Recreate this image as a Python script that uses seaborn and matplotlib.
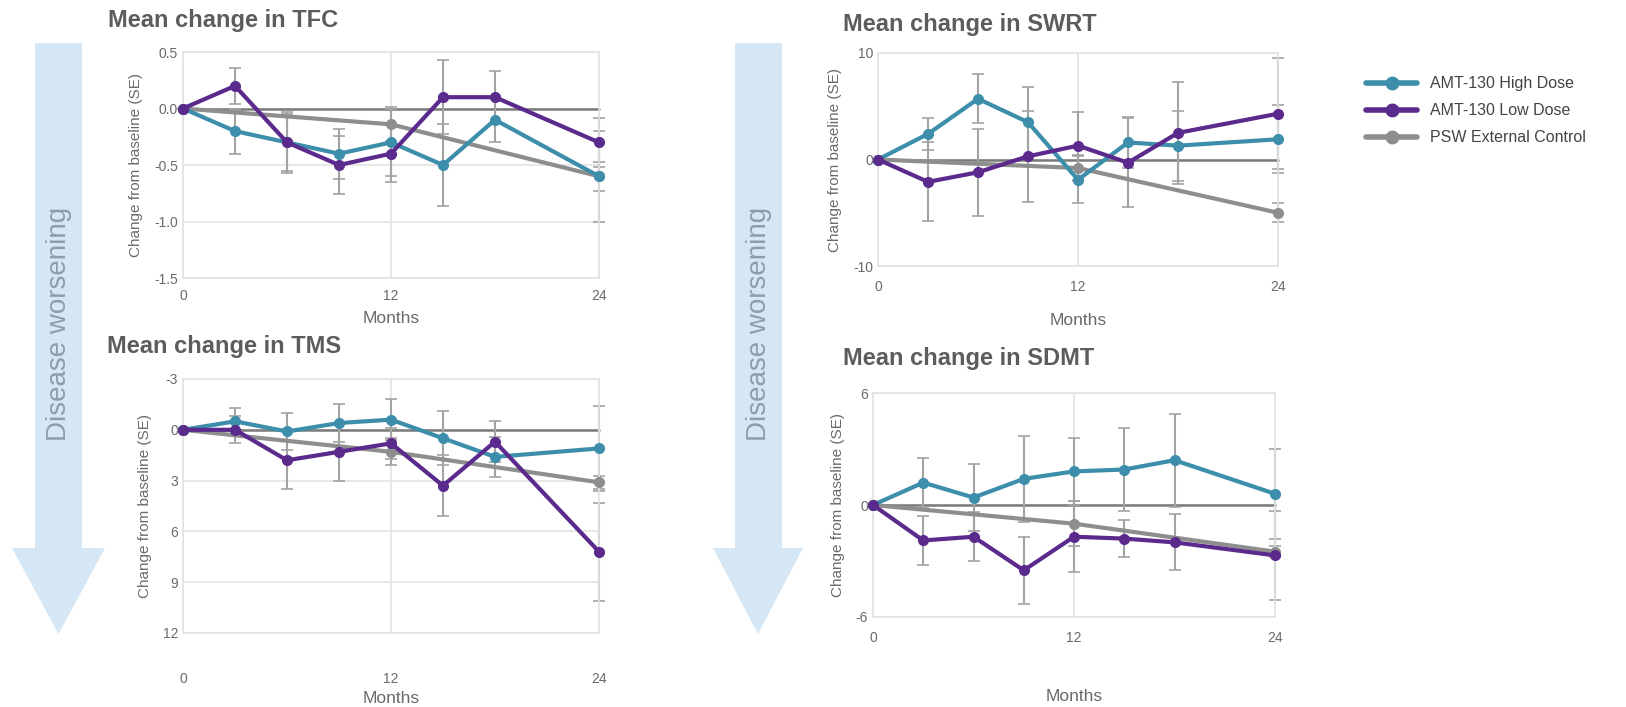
import matplotlib
matplotlib.use("Agg")
import matplotlib.pyplot as plt
from matplotlib.patches import Polygon
from matplotlib.lines import Line2D
import seaborn as sns
import pandas as pd

# ---- data ----
months = [0, 3, 6, 9, 12, 15, 18, 24]
ctrl_months = [0, 12, 24]
series_names = ["AMT-130 High Dose", "AMT-130 Low Dose", "PSW External Control"]

tfc_high = [0, -0.2, -0.3, -0.4, -0.3, -0.5, -0.1, -0.6]
tfc_high_se = [0, 0.2, 0.25, 0.22, 0.3, 0.36, 0.2, 0.4]
tfc_low = [0, 0.2, -0.3, -0.5, -0.4, 0.1, 0.1, -0.3]
tfc_low_se = [0, 0.16, 0.27, 0.26, 0.25, 0.33, 0.23, 0.22]
tfc_ctrl = [0, -0.14, -0.6]
tfc_ctrl_se = [0, 0.15, 0.13]

tms_high = [0, -0.5, 0.1, -0.4, -0.6, 0.5, 1.6, 1.1]
tms_high_se = [0, 0.8, 1.1, 1.1, 1.2, 1.6, 1.2, 2.5]
tms_low = [0, 0.0, 1.8, 1.3, 0.8, 3.3, 0.7, 7.2]
tms_low_se = [0, 0.8, 1.7, 1.7, 0.9, 1.8, 1.2, 2.9]
tms_ctrl = [0, 1.3, 3.1]
tms_ctrl_se = [0, 0.8, 0.4]

swrt_high = [0, 2.4, 5.7, 3.5, -1.9, 1.6, 1.3, 1.9]
swrt_high_se = [0, 1.5, 2.3, 3.3, 2.2, 2.4, 3.3, 3.2]
swrt_low = [0, -2.1, -1.2, 0.3, 1.3, -0.3, 2.5, 4.3]
swrt_low_se = [0, 3.7, 4.1, 4.3, 3.2, 4.2, 4.8, 5.2]
swrt_ctrl = [0, -0.8, -5.0]
swrt_ctrl_se = [0, 1.2, 0.9]

sdmt_high = [0, 1.2, 0.4, 1.4, 1.8, 1.9, 2.4, 0.6]
sdmt_high_se = [0, 1.3, 1.8, 2.3, 1.8, 2.2, 2.5, 2.4]
sdmt_low = [0, -1.9, -1.7, -3.5, -1.7, -1.8, -2.0, -2.7]
sdmt_low_se = [0, 1.3, 1.3, 1.8, 1.9, 1.0, 1.5, 2.4]
sdmt_ctrl = [0, -1.0, -2.5]
sdmt_ctrl_se = [0, 1.2, 0.3]

colors = {"AMT-130 High Dose": "#3d8eab",
          "AMT-130 Low Dose": "#5a2a8c",
          "PSW External Control": "#8e8e8e"}

W, H = 1626, 707
sns.set_theme(style="white")
plt.rcParams["font.family"] = ["Liberation Sans", "DejaVu Sans"]
plt.rcParams["axes.unicode_minus"] = False
fig = plt.figure(figsize=(W / 100, H / 100), dpi=100)


def box(l, t, r, b):
    return [l / W, 1 - b / H, (r - l) / W, (b - t) / H]


# background layer for the arrows
bg = fig.add_axes([0, 0, 1, 1])
bg.set_xlim(0, W)
bg.set_ylim(H, 0)
bg.axis("off")
for sl, sr, hl, hr in [(35, 82, 12, 105), (735, 782, 713, 803)]:
    bg.add_patch(Polygon([(sl, 43), (sr, 43), (sr, 548), (hr, 548),
                          ((hl + hr) / 2, 634), (hl, 548), (sl, 548)],
                         closed=True, color="#d5e7f5", lw=0))
    bg.text((sl + sr) / 2, 324, "Disease worsening", rotation=90,
            ha="center", va="center", fontsize=20, color="#8f9cae")


def panel(rect, title, tpos, high, high_se, low, low_se, ctrl, ctrl_se,
          ylim, yticks, tick_pad, xlab_pad, invert=False):
    ax = fig.add_axes(box(*rect))
    df = pd.DataFrame({
        "Months": months * 2 + ctrl_months,
        "value": high + low + ctrl,
        "se": high_se + low_se + ctrl_se,
        "group": [series_names[0]] * 8 + [series_names[1]] * 8 + [series_names[2]] * 3,
    })
    ax.axhline(0, color="#7a7a7a", lw=1.8, zorder=1)
    for name, g in df.groupby("group", sort=False):
        ax.errorbar(g["Months"], g["value"], yerr=g["se"], fmt="none",
                    ecolor="#a3a3a3", elinewidth=1.5, capsize=4, capthick=1.2,
                    zorder=2, clip_on=False)
    sns.lineplot(data=df, x="Months", y="value", hue="group", palette=colors,
                 hue_order=[series_names[2], series_names[0], series_names[1]],
                 marker="o", markersize=8, markeredgewidth=0, linewidth=3,
                 legend=False, ax=ax, zorder=3)
    for ln in ax.lines:
        ln.set_clip_on(False)
    ax.set_xlim(0, 24)
    ax.set_xticks([0, 12, 24])
    ax.set_ylim(*ylim)
    ax.set_yticks(yticks)
    if invert:
        ax.invert_yaxis()
    ax.grid(True, color="#e3e3e3", lw=1.2)
    ax.set_axisbelow(True)
    for s in ax.spines.values():
        s.set_color("#e3e3e3")
        s.set_linewidth(1.2)
    ax.tick_params(colors="#6a6a6a", labelsize=10, length=0)
    ax.tick_params(axis="x", pad=tick_pad)
    ax.set_xlabel("Months", fontsize=12.5, color="#6a6a6a", labelpad=xlab_pad)
    ax.set_ylabel("Change from baseline (SE)", fontsize=11, color="#6a6a6a",
                  labelpad=8)
    fig.text(tpos[0] / W, 1 - tpos[1] / H, title, fontsize=17,
             fontweight="bold", color="#5c5c5c", ha="left", va="center")
    return ax


panel((183, 52, 599, 278), "Mean change in TFC", (108, 20),
      tfc_high, tfc_high_se, tfc_low, tfc_low_se, tfc_ctrl, tfc_ctrl_se,
      (-1.5, 0.5), [-1.5, -1.0, -0.5, 0.0, 0.5], 8, 6)
panel((183, 379, 599, 633), "Mean change in TMS", (107, 347),
      tms_high, tms_high_se, tms_low, tms_low_se, tms_ctrl, tms_ctrl_se,
      (-3, 12), [-3, 0, 3, 6, 9, 12], 28, 4, invert=True)
panel((878, 53, 1278, 266), "Mean change in SWRT", (843, 25),
      swrt_high, swrt_high_se, swrt_low, swrt_low_se, swrt_ctrl, swrt_ctrl_se,
      (-10, 10), [-10, 0, 10], 10, 14)
panel((873, 393, 1275, 617), "Mean change in SDMT", (843, 358),
      sdmt_high, sdmt_high_se, sdmt_low, sdmt_low_se, sdmt_ctrl, sdmt_ctrl_se,
      (-6, 6), [-6, 0, 6], 10, 32)

handles = [Line2D([], [], color=colors[n], lw=4, marker="o", markersize=9)
           for n in series_names]
fig.legend(handles, series_names, loc="upper left",
           bbox_to_anchor=(1352 / W, 1 - 62 / H), frameon=False,
           fontsize=11.5, labelcolor="#444444", handlelength=3.2,
           labelspacing=0.75)

fig.savefig("out.png", dpi=100)
